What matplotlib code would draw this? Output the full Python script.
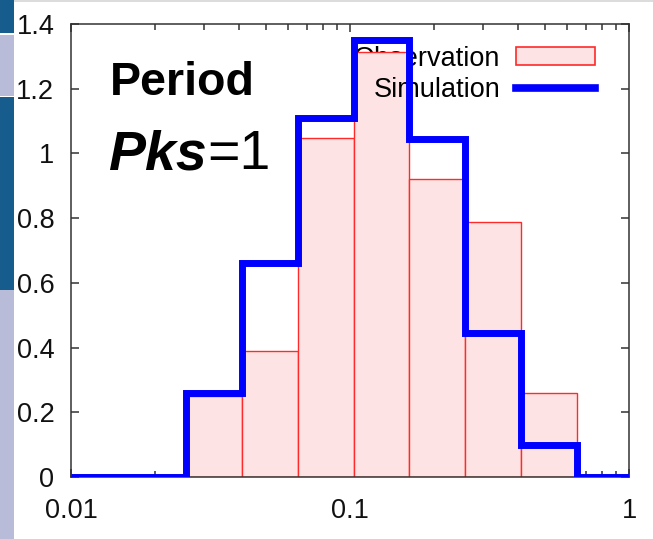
import matplotlib
matplotlib.use("Agg")
import matplotlib.pyplot as plt
from matplotlib.patches import Patch, Rectangle
from matplotlib.lines import Line2D
from matplotlib.ticker import FixedLocator, FixedFormatter, LogLocator, NullFormatter

plt.rcParams['font.family'] = ['Liberation Sans', 'DejaVu Sans']

# ---- data ----
bin_edges = [0.01, 0.0259, 0.041, 0.065, 0.103, 0.163, 0.259, 0.41, 0.65, 1.0]
observation = [0.0, 0.25, 0.39, 1.048, 1.314, 0.921, 0.787, 0.26, 0.0]
simulation = [0.0, 0.26, 0.662, 1.108, 1.35, 1.046, 0.445, 0.10, 0.0]
y_ticks = [0, 0.2, 0.4, 0.6, 0.8, 1.0, 1.2, 1.4]
y_tick_labels = ["0", "0.2", "0.4", "0.6", "0.8", "1", "1.2", "1.4"]
x_ticks = [0.01, 0.1, 1]
x_tick_labels = ["0.01", "0.1", "1"]
series_names = ["Observation", "Simulation"]

PINK = '#fde3e3'
RED = '#ff2a2a'
BLUE = '#0000ff'

W, H = 653, 539
fig = plt.figure(figsize=(W / 100, H / 100), dpi=100)

# slide decoration at left edge
blue_c = '#165d8e'
lav_c = '#b9bcd9'
for y0, y1, c in [(0, 33, blue_c), (35, 96, lav_c), (97, 290, blue_c), (290, 539, lav_c)]:
    fig.add_artist(Rectangle((0, 1 - y1 / H), 14 / W, (y1 - y0) / H,
                             transform=fig.transFigure, facecolor=c, edgecolor='none'))
fig.add_artist(Rectangle((14 / W, 1 - 2 / H), 1 - 14 / W, 2 / H,
                         transform=fig.transFigure, facecolor='#dcdcdc', edgecolor='none'))

ax = fig.add_axes([71 / W, 1 - 477 / H, (629 - 71) / W, (477 - 24) / H])
ax.set_xscale('log')
ax.set_xlim(0.01, 1)
ax.set_ylim(0, 1.4)

# observation bars
for i, v in enumerate(observation):
    if v > 0:
        ax.bar(bin_edges[i], v, width=bin_edges[i + 1] - bin_edges[i], align='edge',
               facecolor=PINK, edgecolor=RED, linewidth=1.0, zorder=2)

# simulation step line
ax.stairs(simulation, bin_edges, baseline=None, color=BLUE, linewidth=5.0, zorder=3)

# ticks
ax.yaxis.set_major_locator(FixedLocator(y_ticks))
ax.yaxis.set_major_formatter(FixedFormatter(y_tick_labels))
ax.xaxis.set_major_locator(FixedLocator(x_ticks))
ax.xaxis.set_major_formatter(FixedFormatter(x_tick_labels))
ax.xaxis.set_minor_locator(LogLocator(base=10, subs=range(2, 10)))
ax.xaxis.set_minor_formatter(NullFormatter())
ax.tick_params(which='both', direction='in', top=True, right=True, color='#333333',
               width=1.1, labelsize=19.5, labelcolor='#111111')
ax.tick_params(which='major', length=6)
ax.tick_params(which='minor', length=4)
ax.tick_params(axis='y', pad=12)
ax.tick_params(axis='x', pad=15)
for s in ax.spines.values():
    s.set_color('#333333')
    s.set_linewidth(1.1)

# legend entries: Observation beneath the bars, Simulation above bars but beneath the line
leg_kw = dict(loc='upper right', frameon=False, markerfirst=False, fontsize=19.5,
              handlelength=2.9, handleheight=0.6, handletextpad=0.6, borderpad=0,
              borderaxespad=0, bbox_transform=fig.transFigure)
leg1 = ax.legend([Patch(facecolor=PINK, edgecolor=RED, linewidth=1.2)], [series_names[0]],
                 bbox_to_anchor=(595 / W, 1 - 45.5 / H), **leg_kw)
leg1.set_zorder(1)
ax.add_artist(leg1)
leg2 = ax.legend([Line2D([], [], color=BLUE, linewidth=5.5)], [series_names[1]],
                 bbox_to_anchor=(595 / W, 1 - 77 / H), **leg_kw)
leg2.set_zorder(2.5)

# annotations
fig.text(110 / W, 1 - 95 / H, "Period", fontsize=33.5, fontweight='bold', va='baseline')
t = fig.text(108 / W, 1 - 169 / H, "Pks", fontsize=40, fontweight='bold', style='italic',
             va='baseline')
ax.annotate("=1", xy=(1, 0), xycoords=t, fontsize=40, va='bottom', ha='left',
            annotation_clip=False)

fig.savefig("out.png", dpi=100)
